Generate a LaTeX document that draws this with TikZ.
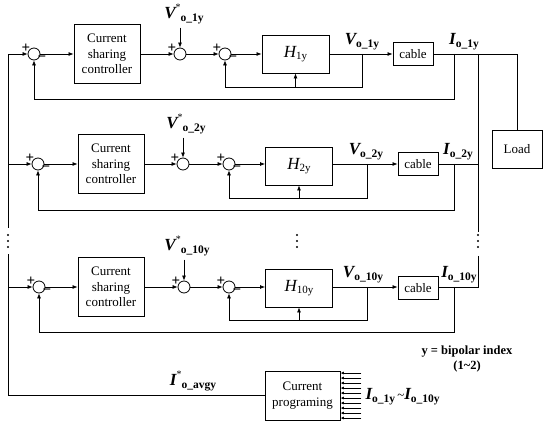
\documentclass[tikz,border=0pt]{standalone}
\usepackage{fontspec}
\setmainfont{Liberation Serif}
\usetikzlibrary{arrows.meta, positioning, calc}
\newcommand{\sigl}[2]{{\fontsize{17}{17}\selectfont\bfseries\itshape #1}\raisebox{-0.5ex}{\fontsize{11.5}{11.5}\selectfont\bfseries #2}}
\newcommand{\sigr}[2]{{\fontsize{17}{17}\selectfont\bfseries\itshape #1}\raisebox{1.3ex}{\fontsize{10}{10}\selectfont *}\raisebox{-0.6ex}{\fontsize{11.5}{11.5}\selectfont\bfseries #2}}
\newcommand{\hlab}[1]{{\fontsize{17}{17}\selectfont\itshape H}\raisebox{-0.45ex}{\fontsize{11}{11}\selectfont #1}}
\tikzset{
    block/.style   ={rectangle, draw=black, line width=0.9pt, align=center, inner sep=2pt},
    ctrlbox/.style ={block, minimum width=66pt, minimum height=59pt},
    plantbox/.style={block, minimum width=67pt, minimum height=38pt},
    cablebox/.style={block, minimum width=40pt, minimum height=23pt},
    sumnode/.style ={circle, draw=black, line width=0.8pt, minimum size=12pt, inner sep=0pt},
    sgn/.style     ={inner sep=0pt, label distance=-2.5pt, font=\fontsize{15}{15}\selectfont\bfseries},
    sumpm/.style   ={sumnode, label={[sgn]158:+}, label={[sgn]-28:−}},
    sump/.style    ={sumnode, label={[sgn]158:+}},
    wire/.style    ={line width=0.7pt},
    sig/.style     ={wire, -{Latex[length=5pt, width=4pt]}},
    sigs/.style    ={wire, -{Latex[length=3.5pt, width=3pt]}},
}
\begin{document}
\begin{tikzpicture}[x=1pt, y=-1pt, font=\rmfamily\fontsize{13}{15.5}\selectfont]
\useasboundingbox (0,0) rectangle (550,427);
% row 1
\node[sumpm] (sa1) at (34,54) {};
\node[ctrlbox] (ctrl1) at (107,54) {Current\\sharing\\controller};
\node[sump] (sb1) at (180,54) {};
\node[sumpm] (sc1) at (225,54) {};
\node[plantbox] (H1) at (295.5,54) {\hlab{1y}};
\node[cablebox] (cab1) at (413,54) {cable};
\node (vr1) at (184,14) {\sigr{V}{o\_1y}};
\node (vo1) at (362,42) {\sigl{V}{o\_1y}};
\node (io1) at (464,42) {\sigl{I}{o\_1y}};
\coordinate (vt1) at (362,54);
\coordinate (it1) at (454,54);
\coordinate (fi1) at (362,87);
\coordinate (fo1) at (454,99);
\draw[sig] (sa1) -- (ctrl1);
\draw[sig] (ctrl1) -- (sb1);
\draw[sig] (sb1) -- (sc1);
\draw[sig] (sc1) -- (H1);
\draw[sig] (H1) -- (cab1);
\draw[sig] (vr1.south -| sb1) -- (sb1);
\draw[sig] (vt1) -- (fi1) -| (sc1);
\draw[sig] (fi1 -| H1.south) -- (H1.south);
\draw[sig] (it1) -- (fo1) -| (sa1);
% row 2
\node[sumpm] (sa2) at (38,164) {};
\node[ctrlbox] (ctrl2) at (111,164) {Current\\sharing\\controller};
\node[sump] (sb2) at (183,164) {};
\node[sumpm] (sc2) at (229,164) {};
\node[plantbox] (H2) at (299,166) {\hlab{2y}};
\node[cablebox] (cab2) at (418,164) {cable};
\node (vr2) at (186,124) {\sigr{V}{o\_2y}};
\node (vo2) at (366,152) {\sigl{V}{o\_2y}};
\node (io2) at (458,152) {\sigl{I}{o\_2y}};
\coordinate (vt2) at (367,164);
\coordinate (it2) at (454,164);
\coordinate (fi2) at (367,198);
\coordinate (fo2) at (454,210);
\draw[sig] (sa2) -- (ctrl2);
\draw[sig] (ctrl2) -- (sb2);
\draw[sig] (sb2) -- (sc2);
\draw[sig] (sc2) -- (sc2 -| H2.west);
\draw[sig] (sc2 -| H2.east) -- (cab2);
\draw[sig] (vr2.south -| sb2) -- (sb2);
\draw[sig] (vt2) -- (fi2) -| (sc2);
\draw[sig] (fi2 -| H2.south) -- (H2.south);
\draw[sig] (it2) -- (fo2) -| (sa2);
% row 3
\node[sumpm] (sa3) at (39,287) {};
\node[ctrlbox] (ctrl3) at (111,287) {Current\\sharing\\controller};
\node[sump] (sb3) at (184,287) {};
\node[sumpm] (sc3) at (229,287) {};
\node[plantbox] (H3) at (299,288) {\hlab{10y}};
\node[cablebox] (cab3) at (418,288) {cable};
\node (vr3) at (187,246) {\sigr{V}{o\_10y}};
\node (vo3) at (363,275) {\sigl{V}{o\_10y}};
\node (io3) at (459,275) {\sigl{I}{o\_10y}};
\coordinate (vt3) at (367,287);
\coordinate (it3) at (454,287);
\coordinate (fi3) at (367,320);
\coordinate (fo3) at (454,332);
\draw[sig] (sa3) -- (ctrl3);
\draw[sig] (ctrl3) -- (sb3);
\draw[sig] (sb3) -- (sc3);
\draw[sig] (sc3) -- (sc3 -| H3.west);
\draw[sig] (sc3 -| H3.east) -- (sc3 -| cab3.west);
\draw[sig] (vr3.south -| sb3) -- (sb3);
\draw[sig] (vt3) -- (fi3) -| (sc3);
\draw[sig] (fi3 -| H3.south) -- (H3.south);
\draw[sig] (it3) -- (fo3) -| (sa3);
% load and output bus
\node[block, minimum width=50pt, minimum height=38pt] (load) at (517,149) {Load};
\coordinate (rbA) at (478,54);
\coordinate (rbB) at (478,232);
\coordinate (rbC) at (478,256);
\draw[wire] (cab1) -| (load);
\draw[wire] (rbA) -- (rbB);
\draw[wire] (cab2) -- (cab2 -| rbA);
\draw[wire] (rbC) |- (sc3 -| cab3.east);
% current programing
\node[block, minimum width=75pt, minimum height=49pt] (prog) at (302.5,395.5) {Current\\programing};
\coordinate (lbB) at (8,228);
\coordinate (lbC) at (8,254);
\draw[wire] (prog.west) -| (lbC);
\draw[sig] (lbB) |- (sa1);
\draw[sig] (lbB |- sa2) -- (sa2);
\draw[sig] (lbC |- sa3) -- (sa3);
\foreach \k in {0,...,9}
    \draw[sigs] ($(prog.north east)+(21,2.5+5*\k)$) -- ($(prog.north east)+(0,2.5+5*\k)$);
\node (iavg) at (193,381) {\sigr{I}{o\_avgy}};
\node[anchor=west] (iall) at (362,397) {\sigl{I}{o\_1y}\,\textasciitilde\sigl{I}{o\_10y}};
\node[font=\rmfamily\fontsize{12.5}{15}\selectfont\bfseries, align=center] (note) at (467,359) {y = bipolar index\\(1\textasciitilde2)};
% dots
\foreach \d in {235,241,247} {
    \fill (8,\d) circle (1.1pt);
    \fill (297,\d) circle (1.1pt);
    \fill (478,\d) circle (1.1pt);
}
\end{tikzpicture}
\end{document}
